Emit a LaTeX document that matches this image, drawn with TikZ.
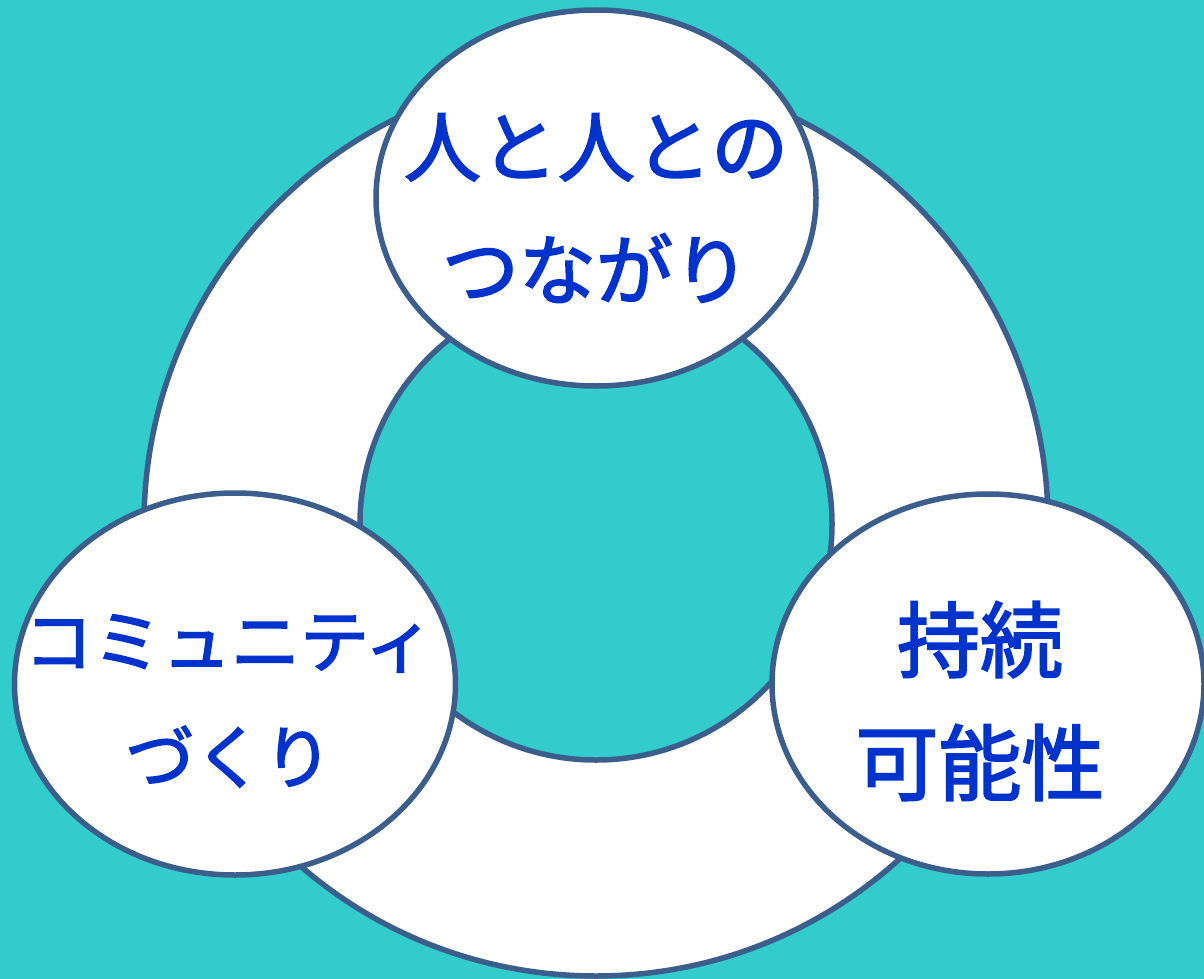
\documentclass[tikz,border=0pt]{standalone}
\usepackage{fontspec}
\newfontfamily\jpfont[RawFeature={embolden=2.2}]{Noto Sans CJK JP}
\usetikzlibrary{shapes.geometric}
\definecolor{bgteal}{HTML}{33CCCC}
\definecolor{edgeblue}{HTML}{3B5E8C}
\definecolor{textblue}{HTML}{0033CC}
\tikzset{
  bubble/.style={ellipse, draw=edgeblue, fill=white, line width=5.5pt, inner sep=0pt},
  ringline/.style={draw=edgeblue, line width=5.5pt},
  label76/.style={text=textblue, align=center, inner sep=0pt, font=\jpfont\fontsize{77}{123}\selectfont},
}
\begin{document}
\begin{tikzpicture}[x=1pt,y=-1pt]
\fill[bgteal] (0,0) rectangle (1204,979);
\useasboundingbox (0,0) rectangle (1204,979);
% ring
\coordinate (c) at (596,524);
\fill[white, even odd rule] (c) circle[radius=452] (c) circle[radius=236];
\path[ringline] (c) circle[radius=452];
\path[ringline] (c) circle[radius=236];
% bubbles
\node[bubble, minimum width=440, minimum height=376] (top) at (596,198) {};
\node[bubble, minimum width=441, minimum height=382] (left) at (235,684) {};
\node[bubble, minimum width=432, minimum height=380] (right) at (988,684) {};
% texts
\node[label76] (toptext) at (596,208) {人と人との\\つながり};
\node[label76, font=\jpfont\fontsize{69}{116}\selectfont] (lefttext) at (229,701) {コミュニティ\\づくり};
\node[label76, font=\jpfont\fontsize{83}{123}\selectfont] (righttext) at (980,701) {持続\\可能性};
\end{tikzpicture}
\end{document}
